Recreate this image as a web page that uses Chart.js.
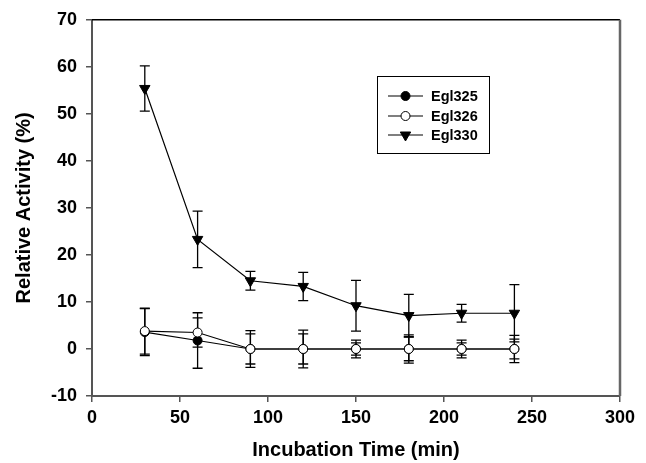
<!DOCTYPE html>
<html>
<head>
<meta charset="utf-8">
<script src="https://cdn.jsdelivr.net/npm/chart.js@4"></script>
<style>
  html, body { margin: 0; padding: 0; background: #fff; }
  canvas { display: block; }
</style>
</head>
<body>
<canvas id="activityChart" width="646" height="463"></canvas>
<script>
// incubation times (min)
var times = [30, 60, 90, 120, 150, 180, 210, 240];

// relative activity (%) and standard deviations
var egl325 = [3.6, 1.8, 0, 0, 0, 0, 0, 0];
var egl325Err = [5.0, 5.9, 3.9, 4.0, 1.9, 3.0, 1.9, 2.9];
var egl326 = [3.8, 3.5, 0, 0, 0, 0, 0, 0];
var egl326Err = [4.9, 3.1, 3.2, 3.2, 1.3, 2.5, 1.3, 2.1];
var egl330 = [55.4, 23.3, 14.5, 13.3, 9.2, 7.1, 7.6, 7.6];
var egl330Err = [4.8, 6.0, 2.0, 3.0, 5.4, 4.5, 1.9, 6.1];

var seriesNames = ["Egl325", "Egl326", "Egl330"];
var xTicks = [0, 50, 100, 150, 200, 250, 300];
var yTicks = [-10, 0, 10, 20, 30, 40, 50, 60, 70];

var fontFamily = "'Liberation Sans', Arial, sans-serif";

function toPoints(values) {
  return values.map(function(v, i) { return { x: times[i], y: v }; });
}

var errors = [egl325Err, egl326Err, egl330Err];

// vertical error bars with caps, drawn under the markers
var errorBars = {
  id: "errorBars",
  beforeDatasetsDraw: function(chart) {
    var ctx = chart.ctx;
    var xs = chart.scales.x, ys = chart.scales.y;
    ctx.save();
    ctx.strokeStyle = "#000";
    ctx.lineWidth = 1.3;
    chart.data.datasets.forEach(function(ds, di) {
      ds.data.forEach(function(p, i) {
        var e = errors[di][i];
        var px = xs.getPixelForValue(p.x);
        var top = ys.getPixelForValue(p.y + e);
        var bot = ys.getPixelForValue(p.y - e);
        ctx.beginPath();
        ctx.moveTo(px, top); ctx.lineTo(px, bot);
        ctx.moveTo(px - 5, top); ctx.lineTo(px + 5, top);
        ctx.moveTo(px - 5, bot); ctx.lineTo(px + 5, bot);
        ctx.stroke();
      });
    });
    ctx.restore();
  }
};

// top and right frame lines plus the boxed legend
var frameAndLegend = {
  id: "frameAndLegend",
  afterDraw: function(chart) {
    var ctx = chart.ctx;
    var a = chart.chartArea;
    ctx.save();
    ctx.strokeStyle = "#000";
    ctx.lineWidth = 1.5;
    ctx.beginPath();
    ctx.moveTo(a.left, a.top); ctx.lineTo(a.right, a.top);
    ctx.stroke();
    ctx.strokeStyle = "#666";
    ctx.lineWidth = 2.5;
    ctx.beginPath();
    ctx.moveTo(a.right, a.top); ctx.lineTo(a.right, a.bottom);
    ctx.stroke();

    // legend box
    ctx.strokeStyle = "#000";
    ctx.lineWidth = 1;
    ctx.strokeRect(377.5, 76.5, 112, 77);
    var rows = [96, 116, 135];
    ctx.font = "bold 14.5px " + fontFamily;
    ctx.textBaseline = "middle";
    ctx.textAlign = "left";
    chart.data.datasets.forEach(function(ds, i) {
      var y = rows[i];
      ctx.strokeStyle = "#000";
      ctx.lineWidth = 1.2;
      ctx.beginPath();
      ctx.moveTo(388, y); ctx.lineTo(423, y);
      ctx.stroke();
      ctx.fillStyle = ds.pointBackgroundColor;
      ctx.strokeStyle = "#000";
      ctx.lineWidth = 1;
      Chart.helpers.drawPoint(ctx, {
        pointStyle: ds.pointStyle,
        rotation: ds.pointRotation || 0,
        radius: ds.pointRadius,
        borderWidth: 1
      }, 405.5, y);
      ctx.fillStyle = "#000";
      ctx.fillText(ds.label, 431, y + 1);
    });
    ctx.restore();
  }
};

new Chart(document.getElementById("activityChart"), {
  type: "line",
  data: {
    datasets: [
      {
        label: seriesNames[0],
        data: toPoints(egl325),
        borderColor: "#000",
        borderWidth: 1.2,
        pointStyle: "circle",
        pointRadius: 4.5,
        pointBorderWidth: 1,
        pointBorderColor: "#000",
        pointBackgroundColor: "#000",
        order: 2
      },
      {
        label: seriesNames[1],
        data: toPoints(egl326),
        borderColor: "#000",
        borderWidth: 1.2,
        pointStyle: "circle",
        pointRadius: 4.5,
        pointBorderWidth: 1,
        pointBorderColor: "#000",
        pointBackgroundColor: "#fff",
        order: 1
      },
      {
        label: seriesNames[2],
        data: toPoints(egl330),
        borderColor: "#000",
        borderWidth: 1.2,
        pointStyle: "triangle",
        pointRotation: 180,
        pointRadius: 6,
        pointBorderWidth: 1,
        pointBorderColor: "#000",
        pointBackgroundColor: "#000",
        order: 0
      }
    ]
  },
  options: {
    responsive: false,
    animation: false,
    devicePixelRatio: 1,
    layout: { padding: { top: 16, right: 26, left: 0, bottom: 0 } },
    plugins: {
      legend: { display: false },
      tooltip: { enabled: false }
    },
    scales: {
      x: {
        type: "linear",
        min: 0,
        max: 300,
        afterBuildTicks: function(scale) {
          scale.ticks = xTicks.map(function(v) { return { value: v }; });
        },
        afterFit: function(scale) { scale.height = 67; },
        grid: { drawOnChartArea: false, drawTicks: true, tickLength: 6, color: "#555", lineWidth: 1.5 },
        border: { display: true, color: "#555", width: 2 },
        ticks: { color: "#000", padding: 5, font: { family: fontFamily, size: 18, weight: "bold" } },
        title: {
          display: true,
          text: "Incubation Time (min)",
          color: "#000",
          padding: { bottom: 1, top: 0 },
          font: { family: fontFamily, size: 20, weight: "bold" }
        }
      },
      y: {
        min: -10,
        max: 70,
        afterBuildTicks: function(scale) {
          scale.ticks = yTicks.map(function(v) { return { value: v }; });
        },
        afterFit: function(scale) { scale.width = 92; },
        grid: { drawOnChartArea: false, drawTicks: true, tickLength: 6, color: "#555", lineWidth: 1.5 },
        border: { display: true, color: "#555", width: 2 },
        ticks: { color: "#000", padding: 9, font: { family: fontFamily, size: 18, weight: "bold" } },
        title: {
          display: true,
          text: "Relative Activity (%)",
          color: "#000",
          padding: { top: 12, bottom: 0 },
          font: { family: fontFamily, size: 20, weight: "bold" }
        }
      }
    }
  },
  plugins: [errorBars, frameAndLegend]
});
</script>
</body>
</html>
